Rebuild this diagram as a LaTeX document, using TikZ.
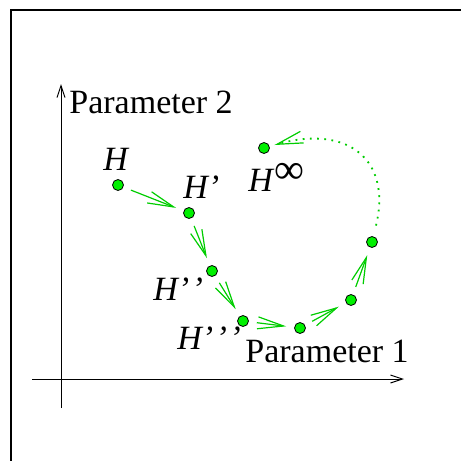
\documentclass[tikz,border=0pt]{standalone}
\usepackage{fontspec}
\setmainfont{Liberation Serif}
\usetikzlibrary{arrows.meta}
\definecolor{pathgreen}{RGB}{0,205,0}
\definecolor{dotgreen}{RGB}{0,240,0}
\begin{document}
\begin{tikzpicture} [x = 0.5pt, y = -0.5pt,
	state/.style = {circle, draw = black, fill = dotgreen, line width = 0.4pt, inner sep = 0pt, minimum size = 5.5pt},
	flow/.style = {draw = pathgreen, line width = 0.6pt, -{Straight Barb[length=13pt,width=6pt]}, shorten <= 4pt, shorten >= 4pt},
	axis/.style = {line width = 0.5pt, -{Straight Barb[length=6pt,width=4pt]}},
	lbl/.style = {anchor = base west, inner sep = 0pt, font = \fontsize{17}{20}\selectfont}]
	\useasboundingbox (0,0) rectangle (461,461);
	\draw [line width = 1.2pt] (11,461) -- (11,10) -- (461,10);
	% axes
	\coordinate (ybot) at (61,408);
	\coordinate (ytop) at (61,84);
	\coordinate (xleft) at (32,379);
	\coordinate (xright) at (404,379);
	\draw [axis] (ybot) -- (ytop);
	\draw [axis] (xleft) -- (xright);
	\node [lbl] (par2) at (69,113) {Parameter 2};
	\node [lbl] (par1) at (245,362) {Parameter 1};
	% states
	\node [state] (h) at (118,185) {};
	\node [state] (h1) at (189,213) {};
	\node [state] (h2) at (212,271) {};
	\node [state] (h3) at (243,321) {};
	\node [state] (p1) at (300,328) {};
	\node [state] (p2) at (351,300) {};
	\node [state] (p3) at (372,242) {};
	\node [state] (hinf) at (264,148) {};
	\node [lbl] (lh) at (103,170) {\itshape H};
	\node [lbl] (lh1) at (183,198) {\itshape H'};
	\node [lbl] (lh2) at (153,300) {\itshape H'\kern1.2pt'};
	\node [lbl] (lh3) at (177,349) {\itshape H'\kern1.2pt'\kern1.2pt'};
	\node [lbl] (lhinf) at (248,191) {\itshape H\kern1pt\raisebox{4pt}{\upshape\fontsize{21}{21}\selectfont ∞}};
	% path
	\draw [flow] (h) -- (h1);
	\draw [flow] (h1) -- (h2);
	\draw [flow] (h2) -- (h3);
	\draw [flow] (h3) -- (p1);
	\draw [flow] (p1) -- (p2);
	\draw [flow] (p2) -- (p3);
	\draw [flow, line width = 0.9pt, dash pattern = on 0.9pt off 2.7pt, shorten <= 5.5pt, shorten >= 2.5pt, -{Straight Barb[length=13pt,width=6pt,line width=0.6pt]}]
		(p3) .. controls (392,160) and (348,124) .. (hinf);
\end{tikzpicture}
\end{document}
